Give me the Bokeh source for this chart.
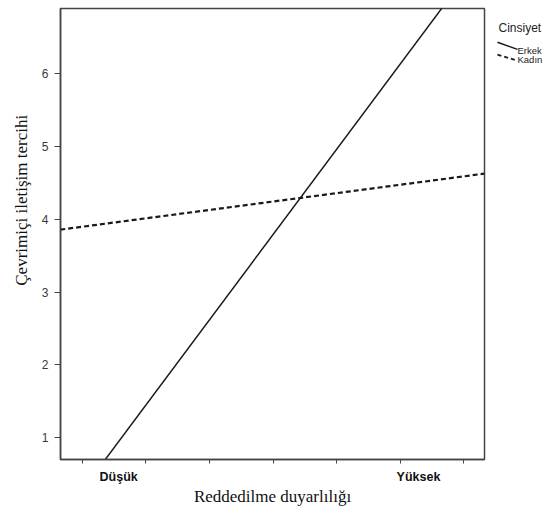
import math
from bokeh.plotting import figure
from bokeh.models import FixedTicker, Range1d
from bokeh.layouts import row
from bokeh.core.properties import value
from bokeh.embed import file_html
from bokeh.resources import INLINE

# --- data ---
x_ticks = [0, 1, 2, 3, 4, 5, 6]
category_positions = [0.57, 5.29]
category_labels = ["Düşük", "Yüksek"]
y_ticks = [1, 2, 3, 4, 5, 6]
erkek_x = [-0.35, 6.33]
erkek_y = [-0.13, 7.69]
kadin_x = [-0.35, 6.33]
kadin_y = [3.86, 4.63]
x_title = "Reddedilme duyarlılığı"
y_title = "Çevrimiçi iletişim tercihi"
legend_title = "Cinsiyet"
series_names = ["Erkek", "Kadın"]

LINE_COLOR = "#1a1a1a"
LEFT_W = 32

# --- left strip holding the y-axis title ---
lf = figure(width=LEFT_W, height=508, output_backend="svg", toolbar_location=None,
            x_range=Range1d(0, LEFT_W), y_range=Range1d(508, 0),
            min_border=0, x_axis_type=None, y_axis_type=None)
lf.grid.visible = False
lf.outline_line_color = None
lf.border_fill_color = "white"
lf.text(x=[21], y=[216], text=[y_title], angle=math.pi / 2,
        text_font=value("Liberation Serif"), text_font_size="17px", text_color="#111111",
        text_align="center", text_baseline="middle")

# --- main plot ---
p = figure(width=486 - LEFT_W, height=508, output_backend="svg", toolbar_location=None,
           x_range=Range1d(-0.346, 6.33), y_range=Range1d(0.70, 6.90),
           min_border_left=60 - LEFT_W, min_border_right=2, min_border_top=8, min_border_bottom=48)

p.grid.visible = False
p.outline_line_color = "#444444"
p.outline_line_width = 1.5
p.background_fill_color = "white"
p.border_fill_color = "white"

p.line(erkek_x, erkek_y, line_color=LINE_COLOR, line_width=1.5)
p.line(kadin_x, kadin_y, line_color=LINE_COLOR, line_width=2.2, line_dash="5 3")

# x axis
xa = p.xaxis[0]
xa.ticker = FixedTicker(ticks=category_positions, minor_ticks=x_ticks)
xa.major_label_overrides = {category_positions[0]: category_labels[0],
                            category_positions[1]: category_labels[1]}
xa.major_tick_out = 0
xa.major_tick_in = 0
xa.minor_tick_out = 4
xa.minor_tick_in = 0
xa.axis_line_color = "#444444"
xa.axis_line_width = 1.5
xa.minor_tick_line_color = "#444444"
xa.major_label_text_font = "Liberation Sans"
xa.major_label_text_font_style = "bold"
xa.major_label_text_font_size = "12.5px"
xa.major_label_text_color = "#111111"
xa.major_label_standoff = 6
xa.axis_label = x_title
xa.axis_label_text_font = "Liberation Serif"
xa.axis_label_text_font_style = "normal"
xa.axis_label_text_font_size = "17px"
xa.axis_label_text_color = "#111111"
xa.axis_label_standoff = 0

# y axis
ya = p.yaxis[0]
ya.ticker = FixedTicker(ticks=y_ticks, minor_ticks=[])
ya.major_tick_out = 6
ya.major_tick_in = 0
ya.minor_tick_out = 0
ya.axis_line_color = "#444444"
ya.axis_line_width = 1.5
ya.major_tick_line_color = "#444444"
ya.major_label_text_font = "Liberation Sans"
ya.major_label_text_font_size = "12px"
ya.major_label_text_color = "#3a3a3a"
ya.major_label_standoff = 6

# --- legend panel (separate small figure, pixel-like coordinates) ---
lg = figure(width=61, height=508, output_backend="svg", toolbar_location=None,
            x_range=Range1d(486, 547), y_range=Range1d(508, 0),
            min_border=0, x_axis_type=None, y_axis_type=None)
lg.grid.visible = False
lg.outline_line_color = None
lg.background_fill_color = "white"
lg.border_fill_color = "white"

lg.text(x=[498], y=[22], text=[legend_title], text_font=value("Liberation Sans"),
        text_font_size="12px", text_color="#222222", text_baseline="middle")
# slanted line samples, like the reference legend
lg.line([497, 517], [38, 46], line_color=LINE_COLOR, line_width=1.5)
lg.line([497, 515], [52, 58], line_color=LINE_COLOR, line_width=1.8, line_dash="4 3")
lg.text(x=[517, 517], y=[47, 57], text=series_names,
        text_font=value("Liberation Sans"), text_font_size="9.5px",
        text_color="#222222", text_baseline="middle")

layout = row(lf, p, lg, spacing=0)
open("out.html", "w").write(file_html(layout, INLINE))
